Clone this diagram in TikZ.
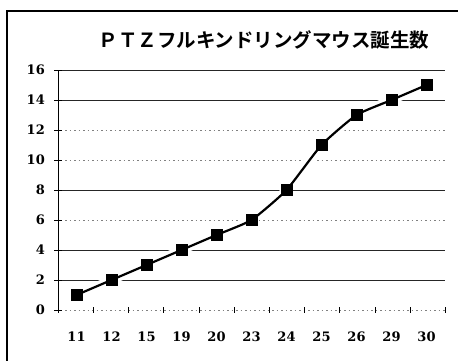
\documentclass[tikz,border=0pt]{standalone}
\usepackage{fontspec}
\newfontfamily\jpfont{Noto Sans CJK JP}[BoldFont={Noto Sans CJK JP Bold}]
\newfontfamily\numfont{DejaVu Serif}
\begin{document}
\begin{tikzpicture}[x=1pt,y=-1pt,
  gridsolid/.style={line width=0.8pt, black!85},
  griddot/.style={line width=0.7pt, black!50, dash pattern=on 1.5pt off 3pt},
  ylab/.style={anchor=east, font=\numfont\bfseries\fontsize{13}{13}\selectfont, inner sep=0pt},
  xlab/.style={anchor=center, font=\numfont\bfseries\fontsize{13}{13}\selectfont, inner sep=0pt},
  datamark/.style={draw=black, fill=black, minimum size=11pt, inner sep=0pt, rectangle},
  halo/.style={white, line width=9pt},
  dataline/.style={line width=2.2pt, black, line join=round}]
\useasboundingbox (0,0) rectangle (458,360);
\fill[white] (0,0) rectangle (458,360);
% frame
\draw[line width=1.8pt] (7,370) -- (7,11) -- (470,11);
% title
\node[font=\jpfont\bfseries\fontsize{19.5}{19.5}\selectfont, inner sep=0pt] (title) at (264,40) {ＰＴＺフルキンドリングマウス誕生数};
% grid lines
\foreach \v in {16,14,8,4,2} \draw[gridsolid] (56,310-15*\v) -- (445,310-15*\v);
\foreach \v in {12,10,6,0} \draw[griddot] (56,310-15*\v) -- (445,310-15*\v);
% y axis
\draw[line width=0.5pt] (58,70) -- (58,310);
\foreach \v in {0,2,...,16} {
  \draw[line width=0.8pt] (54,310-15*\v) -- (62,310-15*\v);
  \node[ylab] (y\v) at (45,310-15*\v) {\v};
}
% x ticks
\foreach \i in {0,...,11} \draw[line width=0.6pt] (58+35.2*\i,307) -- (58+35.2*\i,313);
% x labels
\foreach \lab [count=\i from 0] in {11,12,15,19,20,23,24,25,26,29,30}
  \node[xlab] (x\i) at (76.5+35.0*\i,337) {\lab};
% data nodes
\foreach \val [count=\i from 0] in {1,2,3,4,5,6,8,11,13,14,15}
  \coordinate (c\i) at (76.5+35.0*\i,310-15*\val);
\draw[halo] plot[smooth, tension=0.3] coordinates {(c0) (c1) (c2) (c3) (c4) (c5) (c6) (c7) (c8) (c9) (c10)};
\draw[dataline] plot[smooth, tension=0.3] coordinates {(c0) (c1) (c2) (c3) (c4) (c5) (c6) (c7) (c8) (c9) (c10)};
\foreach \i in {0,...,10} \node[datamark] (p\i) at (c\i) {};
\end{tikzpicture}
\end{document}
